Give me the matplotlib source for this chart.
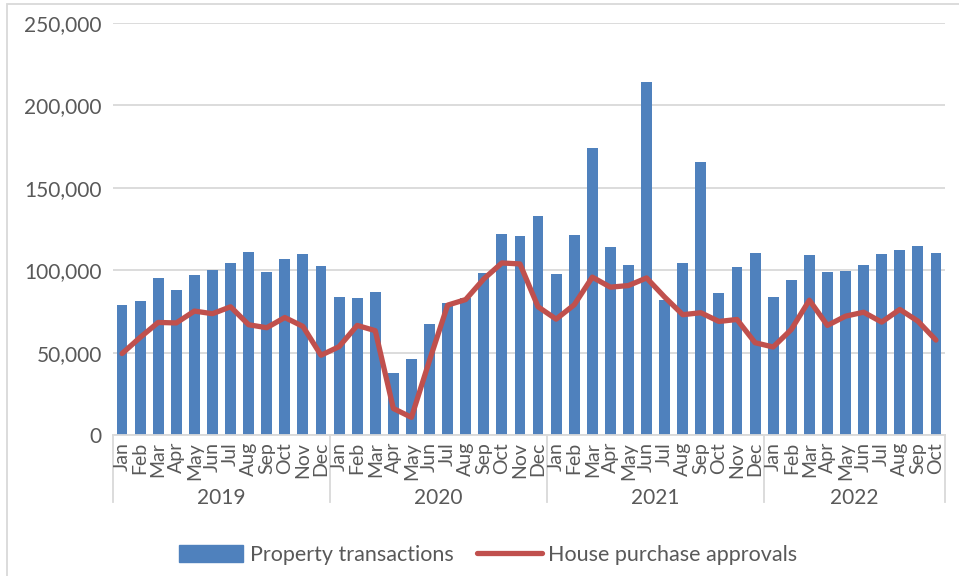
import matplotlib
matplotlib.use("Agg")
import matplotlib.pyplot as plt
import matplotlib.transforms as mtransforms
from matplotlib.patches import Rectangle
from matplotlib.lines import Line2D
import numpy as np

plt.rcParams['font.family'] = ['Lato', 'DejaVu Sans']

years = ["2019", "2020", "2021", "2022"]
months = ["Jan", "Feb", "Mar", "Apr", "May", "Jun",
          "Jul", "Aug", "Sep", "Oct", "Nov", "Dec"]
month_labels = months * 3 + months[:10]

property_transactions = [
    78600, 81600, 95500, 87700, 96900, 100000, 104600, 111200, 99200, 107000, 110000, 102400,
    83500, 83000, 86600, 37500, 46000, 67100, 80400, 83000, 98600, 122000, 121000, 132800,
    97600, 121300, 174000, 114000, 103200, 214500, 82000, 104400, 165500, 86300, 102000, 110500,
    83600, 93800, 109500, 99200, 99800, 103400, 109600, 112500, 114500, 110700,
]
house_purchase_approvals = [
    49400, 59200, 68300, 68000, 75200, 73600, 77800, 66900, 65100, 71300, 65900, 48400,
    53600, 66500, 63300, 16100, 10700, 45300, 78800, 82200, 94700, 104400, 103800, 77800,
    70300, 79000, 95800, 89700, 90700, 95300, 83700, 73000, 74200, 68900, 70100, 56000,
    53400, 64000, 81800, 66500, 72100, 74500, 68500, 76200, 69100, 57600,
]

blue = "#4f81bd"
red = "#c0504d"
grid_col = "#d9d9d9"
txt_col = "#595959"

fig = plt.figure(figsize=(9.59, 5.76), dpi=100)
ax = fig.add_axes([113 / 959, 1 - 435 / 576, (945 - 113) / 959, (435 - 23) / 576])

x = np.arange(len(property_transactions))
ax.bar(x, property_transactions, width=0.6, color=blue, zorder=2)
ax.plot(x, house_purchase_approvals, color=red, linewidth=3.8, zorder=3,
        solid_joinstyle="round", solid_capstyle="round")

ax.set_xlim(-0.5, len(x) - 0.5)
ax.set_ylim(0, 250000)
ax.set_yticks(np.arange(0, 250001, 50000))
ax.set_yticklabels(["{:,}".format(v) for v in range(0, 250001, 50000)],
                   fontsize=15, color=txt_col)
ax.yaxis.grid(True, color=grid_col, linewidth=1.3, zorder=0)
ax.tick_params(axis="y", length=0, pad=8)
ax.set_xticks([])
for s in ["top", "right", "left"]:
    ax.spines[s].set_visible(False)
ax.spines["bottom"].set_color(grid_col)
ax.spines["bottom"].set_linewidth(1.3)

# category axis: months and years
trans = mtransforms.blended_transform_factory(ax.transData, ax.transAxes)
axis_h = (435 - 23)
for i, m in enumerate(month_labels):
    ax.text(i, -7 / axis_h, m, transform=trans, rotation=90, ha="center", va="top",
            fontsize=14, color=txt_col, clip_on=False)

bounds = [-0.5, 11.5, 23.5, 35.5, len(x) - 0.5]
for b in bounds:
    ax.add_line(Line2D([b, b], [0, -67 / axis_h], transform=trans, color=grid_col,
                       linewidth=1.3, clip_on=False))
for k, y in enumerate(years):
    ax.text((bounds[k] + bounds[k + 1]) / 2, -63 / axis_h, y, transform=trans,
            ha="center", va="center", fontsize=15, color=txt_col, clip_on=False)

# legend
handles = [Rectangle((0, 0), 1, 1, color=blue),
           Line2D([0], [0], color=red, linewidth=3.8, solid_capstyle="round")]
leg = fig.legend(handles, ["Property transactions", "House purchase approvals"],
                 loc="center", bbox_to_anchor=(488 / 959, 1 - 555 / 576), ncol=2,
                 frameon=False, fontsize=15.5, handlelength=3.0, handleheight=0.8,
                 columnspacing=1.1, handletextpad=0.3)
for t in leg.get_texts():
    t.set_color(txt_col)

# chart border
fig.patches.append(Rectangle((7 / 959, -0.1), 1.2, 1 - 4 / 576 + 0.1, transform=fig.transFigure,
                             fill=False, edgecolor=grid_col, linewidth=1.3))

fig.savefig("out.png", dpi=100)
